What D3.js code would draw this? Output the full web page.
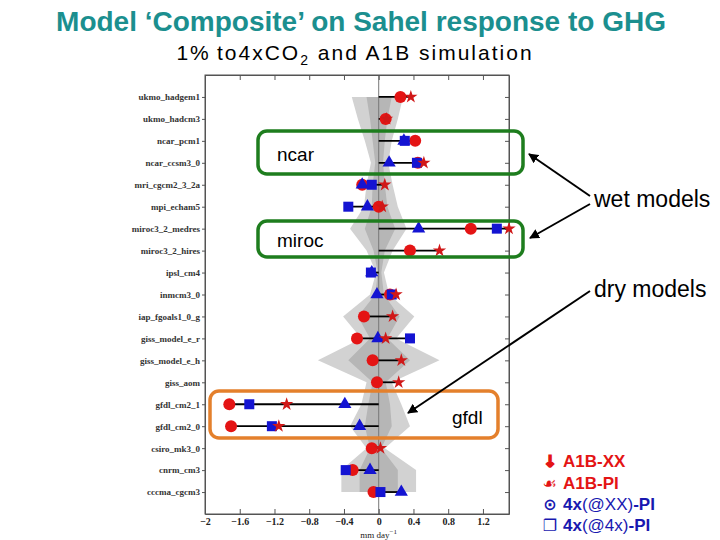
<!DOCTYPE html>
<html>
<head>
<meta charset="utf-8">
<script src="https://cdn.jsdelivr.net/npm/d3@7"></script>
<style>
  body { margin: 0; background: #fff; }
  svg text { font-family: Arial, "Liberation Sans", sans-serif; }
  svg text.serif { font-family: "Liberation Serif", "DejaVu Serif", serif; }
</style>
</head>
<body>
<div id="chart"></div>
<script>
// model names, top to bottom
const models = ["ukmo_hadgem1", "ukmo_hadcm3", "ncar_pcm1", "ncar_ccsm3_0", "mri_cgcm2_3_2a",
  "mpi_echam5", "miroc3_2_medres", "miroc3_2_hires", "ipsl_cm4", "inmcm3_0", "iap_fgoals1_0_g",
  "giss_model_e_r", "giss_model_e_h", "giss_aom", "gfdl_cm2_1", "gfdl_cm2_0", "csiro_mk3_0",
  "cnrm_cm3", "cccma_cgcm3"];

// rainfall response, mm/day (null = not shown)
const a1bXX = [0.25, 0.08, 0.42, 0.45, -0.19, 0.0, 1.06, 0.36, null, 0.13, -0.17, -0.25, -0.07, -0.02, -1.72, -1.70, -0.08, -0.30, -0.06];
const a1bPI = [0.37, 0.09, null, 0.52, 0.07, 0.04, 1.50, 0.70, null, 0.20, 0.16, 0.08, 0.26, 0.23, -1.06, -1.15, 0.02, null, null];
const x4XX  = [null, null, 0.29, 0.12, -0.19, -0.13, 0.46, null, -0.08, -0.02, null, -0.01, null, null, -0.39, -0.22, null, -0.10, 0.26];
const x4    = [null, null, 0.30, 0.44, -0.08, -0.35, 1.36, null, -0.09, 0.15, null, 0.36, null, null, -1.49, -1.23, null, -0.38, 0.02];

// noise bands (outer and inner)
const outerLo = [-0.31, -0.24, -0.16, -0.09, -0.14, -0.17, -0.33, -0.14, -0.03, -0.10, -0.41, -0.20, -0.70, -0.14, -0.20, -0.33, -0.14, -0.43, -0.43];
const outerHi = [0.28, 0.22, 0.15, 0.11, 0.16, 0.22, 0.32, 0.16, 0.06, 0.12, 0.41, 0.20, 0.70, 0.15, 0.26, 0.36, 0.07, 0.43, 0.43];
const innerLo = [-0.14, -0.10, -0.07, -0.04, -0.07, -0.08, -0.16, -0.06, -0.01, -0.04, -0.24, -0.10, -0.35, -0.07, -0.12, -0.16, -0.10, -0.22, -0.22];
const innerHi = [0.15, 0.10, 0.07, 0.05, 0.07, 0.10, 0.19, 0.07, 0.03, 0.06, 0.24, 0.10, 0.36, 0.08, 0.13, 0.15, 0.03, 0.22, 0.22];

const xTicks = [-2, -1.6, -1.2, -0.8, -0.4, 0, 0.4, 0.8, 1.2];

const red = "#e41414", blue = "#1414d2";

const svg = d3.select("#chart").append("svg")
  .attr("width", 720).attr("height", 540);

const plot = {left: 205, right: 509, top: 75, bottom: 514};

const x = d3.scaleLinear().domain([-2, 1.5]).range([plot.left, plot.right]);
const y = d3.scalePoint().domain(models).range([plot.top, plot.bottom]).padding(1);

// titles
svg.append("text").attr("x", 361).attr("y", 31).attr("text-anchor", "middle")
  .attr("font-size", 28).attr("font-weight", "bold").attr("fill", "#1b8f8f")
  .text("Model \u2018Composite\u2019 on Sahel response to GHG");

const sub = svg.append("text").attr("x", 355).attr("y", 60).attr("text-anchor", "middle")
  .attr("font-size", 21).attr("fill", "#000").style("letter-spacing", "2px");
sub.append("tspan").text("1%\u2009to4xCO");
sub.append("tspan").attr("font-size", 14).attr("dy", 5).text("2");
sub.append("tspan").attr("dy", -5).text(" and A1B simulation");

// bands
const rows = models.map((m, i) => ({m, i}));
const band = (lo, hi) => d3.area()
  .y(d => y(d.m)).x0(d => x(lo[d.i])).x1(d => x(hi[d.i]));

svg.append("path").datum(rows).attr("d", band(outerLo, outerHi)).attr("fill", "#d2d2d2");
svg.append("path").datum(rows).attr("d", band(innerLo, innerHi)).attr("fill", "#b6b6b6");

// zero line
svg.append("line").attr("x1", x(0)).attr("x2", x(0))
  .attr("y1", plot.top).attr("y2", plot.bottom)
  .attr("stroke", "#777").attr("stroke-width", 1);

// frame + axes
const gx = svg.append("g").attr("transform", `translate(0,${plot.bottom})`)
  .call(d3.axisBottom(x).tickValues(xTicks).tickSizeInner(-5).tickSizeOuter(0)
    .tickFormat(d => d3.format("")(d).replace("-", "\u2212")));
gx.selectAll("text").attr("class", "serif").attr("dy", 8)
  .attr("font-weight", "bold").attr("font-size", 10).attr("fill", "#222");

const gxt = svg.append("g").attr("transform", `translate(0,${plot.top})`)
  .call(d3.axisTop(x).tickValues(xTicks).tickSizeInner(-5).tickSizeOuter(0).tickFormat(""));

const gyl = svg.append("g").attr("transform", `translate(${plot.left},0)`)
  .call(d3.axisLeft(y).tickSizeInner(3).tickSizeOuter(0).tickPadding(2));
gyl.selectAll("text").attr("class", "serif")
  .attr("font-weight", "bold").attr("font-size", 9).attr("fill", "#333");

const gyr = svg.append("g").attr("transform", `translate(${plot.right},0)`)
  .call(d3.axisRight(y).tickSizeInner(-4).tickSizeOuter(0).tickFormat(""));

[gx, gxt, gyl, gyr].forEach(g => {
  g.select(".domain").attr("stroke", "#555");
  g.selectAll(".tick line").attr("stroke", "#555");
});
// close the frame at the top right corner
svg.append("rect").attr("x", plot.left).attr("y", plot.top)
  .attr("width", plot.right - plot.left).attr("height", plot.bottom - plot.top)
  .attr("fill", "none").attr("stroke", "#555");

const xl = svg.append("text").attr("class", "serif").attr("x", x(0)).attr("y", 538)
  .attr("text-anchor", "middle").attr("font-size", 9).attr("fill", "#222");
xl.append("tspan").text("mm day");
xl.append("tspan").attr("dy", -4).attr("font-size", 7).text("\u22121");

// range lines
svg.append("g").selectAll("line").data(rows).join("line")
  .attr("x1", d => x(Math.min(0, ...[a1bXX, a1bPI, x4XX, x4].map(a => a[d.i] ?? 0))))
  .attr("x2", d => x(Math.max(0, ...[a1bXX, a1bPI, x4XX, x4].map(a => a[d.i] ?? 0))))
  .attr("y1", d => y(d.m)).attr("y2", d => y(d.m))
  .attr("stroke", "#000").attr("stroke-width", 1.8);

// markers
const pts = arr => rows.filter(d => arr[d.i] != null);
svg.append("g").selectAll("circle").data(pts(a1bXX)).join("circle")
  .attr("cx", d => x(a1bXX[d.i])).attr("cy", d => y(d.m)).attr("r", 6).attr("fill", red);
svg.append("g").selectAll("path").data(pts(x4XX)).join("path")
  .attr("transform", d => `translate(${x(x4XX[d.i])},${y(d.m)})`)
  .attr("d", d3.symbol(d3.symbolTriangle, 75)).attr("fill", blue);
svg.append("g").selectAll("rect").data(pts(x4)).join("rect")
  .attr("x", d => x(x4[d.i]) - 5).attr("y", d => y(d.m) - 5)
  .attr("width", 10).attr("height", 10).attr("fill", blue);
svg.append("g").selectAll("path").data(pts(a1bPI)).join("path")
  .attr("transform", d => `translate(${x(a1bPI[d.i])},${y(d.m)})`)
  .attr("d", d3.symbol(d3.symbolStar, 55)).attr("fill", "#d01818");

// annotation boxes
const boxes = [
  {x: 258, y: 131, w: 265, h: 43, c: "#1e7d1e", label: "ncar", lx: 277, ly: 161},
  {x: 258, y: 221, w: 265, h: 36, c: "#1e7d1e", label: "miroc", lx: 277, ly: 247},
  {x: 210, y: 391, w: 288, h: 47, c: "#e4802c", label: "gfdl", lx: 452, ly: 424}
];
svg.append("g").selectAll("rect").data(boxes).join("rect")
  .attr("x", d => d.x).attr("y", d => d.y).attr("width", d => d.w).attr("height", d => d.h)
  .attr("rx", 9).attr("fill", "none").attr("stroke", d => d.c).attr("stroke-width", 3.5);
svg.append("g").selectAll("text").data(boxes).join("text")
  .attr("x", d => d.lx).attr("y", d => d.ly).attr("font-size", 19).attr("fill", "#000")
  .text(d => d.label);

// arrows
svg.append("defs").append("marker").attr("id", "ah").attr("viewBox", "0 0 10 10")
  .attr("refX", 9).attr("refY", 5).attr("markerWidth", 5).attr("markerHeight", 5)
  .attr("orient", "auto").append("path").attr("d", "M0,0L10,5L0,10z").attr("fill", "#000");
const arrows = [
  [590, 196, 529, 154], [590, 204, 530, 238], [590, 291, 408, 413]
];
svg.append("g").selectAll("line").data(arrows).join("line")
  .attr("x1", d => d[0]).attr("y1", d => d[1]).attr("x2", d => d[2]).attr("y2", d => d[3])
  .attr("stroke", "#000").attr("stroke-width", 2).attr("marker-end", "url(#ah)");

svg.append("text").attr("x", 594).attr("y", 207).attr("font-size", 23).text("wet models");
svg.append("text").attr("x", 594).attr("y", 297).attr("font-size", 23).text("dry models");

// legend
const legend = [
  {sym: "\u2193", parts: [["A1B-XX", "bold"]], c: red, y: 467},
  {sym: "\u2619", parts: [["A1B-PI", "bold"]], c: red, y: 489},
  {sym: "\u2299", parts: [["4x", "bold"], ["(@XX)", "normal"], ["-PI", "bold"]], c: "#1818b0", y: 510},
  {sym: "\u2750", parts: [["4x", "bold"], ["(@4x)", "normal"], ["-PI", "bold"]], c: "#1818b0", y: 531}
];
const lg = svg.append("g").selectAll("g").data(legend).join("g");
lg.append("text").attr("x", 550).attr("y", d => d.y).attr("text-anchor", "middle")
  .style("font-family", "'DejaVu Sans', sans-serif").attr("font-weight", "bold")
  .attr("font-size", 16).attr("fill", d => d.c)
  .attr("stroke", (d, i) => i === 0 ? d.c : "none").attr("stroke-width", 1.6)
  .text(d => d.sym);
lg.append("text").attr("x", 563).attr("y", d => d.y).attr("font-size", 17).attr("fill", d => d.c)
  .selectAll("tspan").data(d => d.parts).join("tspan")
  .attr("font-weight", p => p[1]).text(p => p[0]);
</script>
</body>
</html>
